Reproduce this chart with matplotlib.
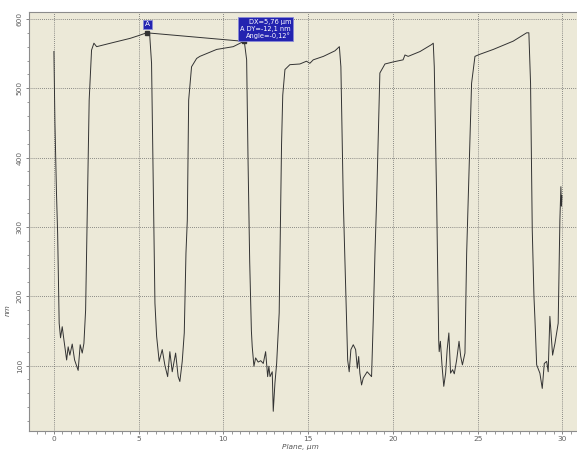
import numpy as np
import matplotlib
matplotlib.use('Agg')
import matplotlib.pyplot as plt
from matplotlib.ticker import MultipleLocator

# Profile (plane position in um, height in nm)
x_um = [0.00, 0.06, 0.15, 0.22, 0.28, 0.31, 0.39, 0.49, 0.59, 0.75, 0.84, 0.94, 1.08, 1.22,
        1.43, 1.55, 1.67, 1.77, 1.87, 1.96, 2.02, 2.08, 2.22, 2.36, 2.52, 3.0, 3.5, 4.0, 4.5,
        5.0, 5.47, 5.64, 5.76, 5.90, 5.96, 6.06, 6.21, 6.39, 6.55, 6.71, 6.84, 6.98, 7.18,
        7.33, 7.43, 7.57, 7.69, 7.79, 7.87, 7.95, 8.12, 8.42, 8.61, 9.6, 10.58, 11.23, 11.37,
        11.45, 11.55, 11.65, 11.70, 11.80, 11.90, 12.05, 12.20, 12.35, 12.49, 12.61, 12.68,
        12.75, 12.88, 12.94, 13.04, 13.14, 13.29, 13.37, 13.43, 13.50, 13.63, 13.92, 14.51,
        14.9, 15.1, 15.3, 15.9, 16.58, 16.84, 16.93, 17.07, 17.17, 17.27, 17.33, 17.42, 17.52,
        17.66, 17.80, 17.90, 17.98, 18.05, 18.15, 18.25, 18.48, 18.74, 18.84, 18.94, 19.04,
        19.23, 19.53, 20.02, 20.6, 20.71, 20.9, 21.6, 22.28, 22.38, 22.44, 22.58, 22.70,
        22.73, 22.80, 22.90, 23.00, 23.11, 23.20, 23.30, 23.40, 23.52, 23.62, 23.76, 23.90,
        24.00, 24.10, 24.25, 24.35, 24.44, 24.64, 24.84, 25.13, 25.92, 27.1, 27.89, 28.02,
        28.12, 28.22, 28.32, 28.38, 28.48, 28.67, 28.81, 28.93, 29.07, 29.16, 29.26, 29.42,
        29.56, 29.75, 29.85, 29.91, 29.94, 29.97]
z_nm = [553, 450, 350, 290, 200, 161, 140, 156, 137, 108, 127, 115, 131, 108,
        93, 130, 118, 132, 180, 310, 400, 483, 555, 565, 560, 563, 566, 569, 572,
        576, 580, 581, 536, 296, 190, 142, 106, 123, 100, 84, 120, 91, 118,
        84, 77, 106, 147, 262, 310, 483, 531, 543, 546, 556, 560, 568, 541,
        400, 250, 150, 127, 99, 111, 105, 107, 103, 120, 84, 99,
        84, 91, 34, 75, 103, 176, 310, 420, 490, 527, 534, 535,
        539, 536, 541, 546, 554, 560, 531, 339, 250, 166, 108, 91, 123,
        130, 123, 96, 113, 89, 72, 82, 91, 84, 166, 262, 339,
        522, 535, 538, 541, 548, 546, 553, 563, 565, 531, 339, 137,
        120, 135, 99, 70, 89, 123, 147, 89, 94, 88, 108, 135,
        113, 101, 118, 262, 339, 507, 546, 549, 556, 568, 580, 580,
        507, 296, 200, 166, 101, 89, 67, 103, 106, 91, 171, 115,
        132, 161, 310, 358, 330, 345]

# measurement cursors
cursor_x = [5.47, 11.23]
cursor_z = [580, 567.6]
info_text = 'DX=5,76 µm\nA DY=-12,1 nm\nAngle=-0,12°'

fig = plt.figure(figsize=(5.77, 4.51), dpi=100)
ax = fig.add_axes([29 / 577, 20.3 / 451, 1 - 29 / 577, (430.7 - 12) / 451])
ax.set_facecolor('#ECE9D8')

ax.plot(x_um, z_nm, color='#333333', lw=0.7)
ax.plot(cursor_x, cursor_z, color='#333333', lw=0.7, marker='s', ms=2.2)

ax.text(5.52, 592, 'A', color='white', fontsize=5.3, ha='center', va='center',
        bbox=dict(boxstyle='square,pad=0.25', fc='#2323b0', ec='#8a8ad8', lw=0.6))
ax.text(12.5, 585, info_text, color='white', fontsize=4.8, ha='center', va='center',
        multialignment='right', linespacing=1.1,
        bbox=dict(boxstyle='square,pad=0.3', fc='#2323b0', ec='#8a8ad8', lw=0.6))

ax.set_xlim(-1.47, 30.86)
ax.set_ylim(6, 610)
ax.xaxis.set_major_locator(MultipleLocator(5))
ax.xaxis.set_minor_locator(MultipleLocator(0.5))
ax.yaxis.set_major_locator(MultipleLocator(100))
ax.yaxis.set_minor_locator(MultipleLocator(20))
ax.grid(True, which='major', color='#6a6a6a', linestyle=(0, (1, 1.5)), lw=0.6)

ax.tick_params(which='both', direction='out', colors='#707070', labelsize=5.3,
               labelcolor='#606060')
ax.tick_params(which='major', length=2.5, width=0.6)
ax.tick_params(which='minor', length=1.8, width=0.5)
ax.tick_params(axis='y', pad=2)
ax.tick_params(axis='x', pad=1.5)
for lbl in ax.get_yticklabels():
    lbl.set_rotation(90)
    lbl.set_va('center')

for side in ['left', 'bottom', 'top']:
    ax.spines[side].set_color('#8c8c8c')
    ax.spines[side].set_linewidth(0.8)
ax.spines['right'].set_visible(False)

fig.text(300 / 577, 1 - 447.5 / 451, 'Plane, µm', fontsize=5.3, style='italic',
         color='#555555', ha='center', va='center')
fig.text(8 / 577, 1 - 310 / 451, 'nm', fontsize=5.3, style='italic', rotation=90,
         color='#555555', ha='center', va='center')

fig.savefig('out.png', dpi=100, facecolor='white')
